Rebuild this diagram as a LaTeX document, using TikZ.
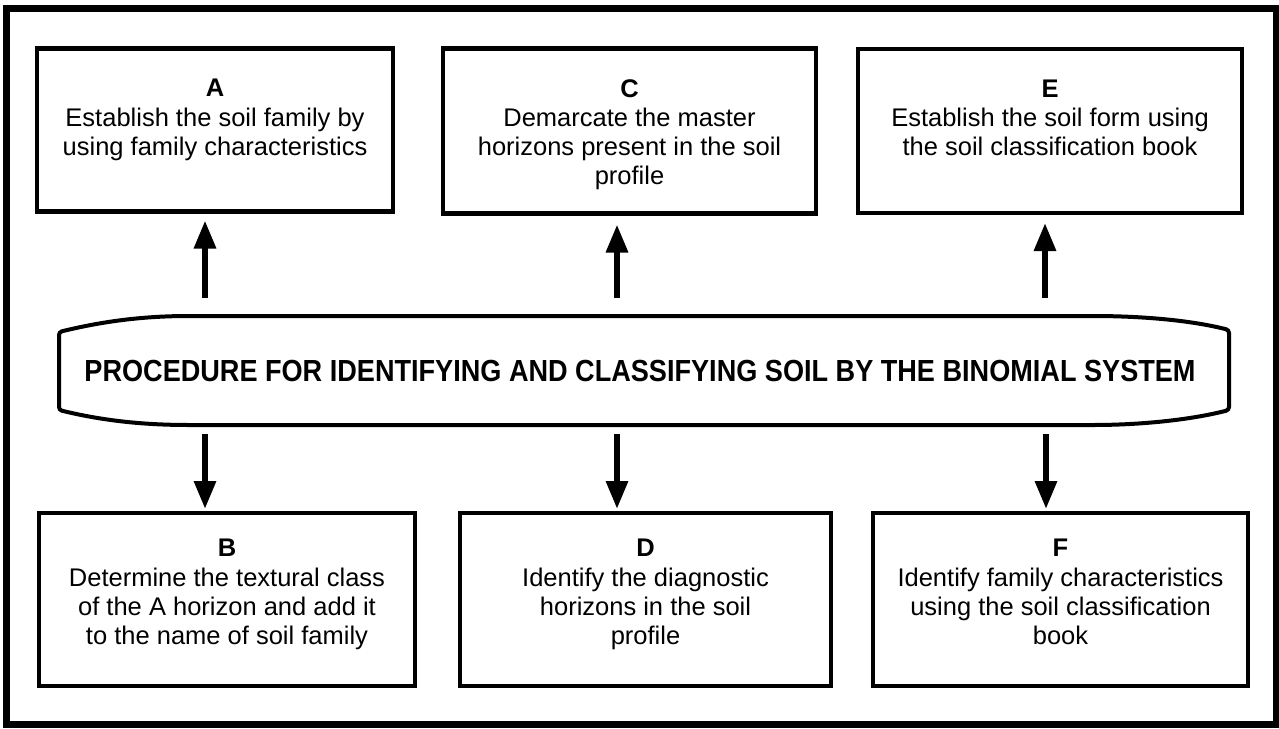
\documentclass[tikz,border=0pt]{standalone}
\usepackage{graphicx}
\usepackage{fontspec}
\setmainfont{Liberation Sans}
\usetikzlibrary{arrows.meta}

\tikzset{
  stepbox/.style={draw, line width=4.5pt, inner sep=0pt, outer sep=0pt},
  boxtext/.style={align=center, inner sep=0pt, anchor=north,
    font=\fontsize{25.5}{29.3}\selectfont},
  arr/.style={line width=6pt, -{Triangle[length=28pt,width=21pt]}},
  frame/.style={draw, line width=6.5pt},
  scroll/.style={draw, line width=4pt, rounded corners=3pt}
}

\begin{document}
\begin{tikzpicture}[x=1pt, y=-1pt]
  \useasboundingbox (0,0) rectangle (1279,728);

  % outer frame
  \draw[frame] (6.5,8.5) rectangle (1276.5,724.5);

  % upper row of steps
  \node[stepbox, minimum width=356pt, minimum height=163pt] (A) at (215,130) {};
  \node[stepbox, minimum width=373pt, minimum height=165pt] (C) at (629.5,131) {};
  \node[stepbox, minimum width=384pt, minimum height=164pt] (E) at (1050,131) {};

  % lower row of steps
  \node[stepbox, minimum width=376pt, minimum height=173pt] (B) at (227,599.5) {};
  \node[stepbox, minimum width=371pt, minimum height=173pt] (D) at (645.5,599.5) {};
  \node[stepbox, minimum width=375pt, minimum height=173pt] (F) at (1060.5,599.5) {};

  % step texts
  \node[boxtext] (At) at ([yshift=-30.5pt]A.north)
    {\textbf{A}\\Establish the soil family by\\using family characteristics};
  \node[boxtext] (Ct) at ([yshift=-30.5pt]C.north)
    {\textbf{C}\\Demarcate the master\\horizons present in the soil\\profile};
  \node[boxtext] (Et) at ([yshift=-30.5pt]E.north)
    {\textbf{E}\\Establish the soil form using\\the soil classification book};
  \node[boxtext] (Bt) at ([yshift=-26pt]B.north)
    {\textbf{B}\\Determine the textural class\\of the A horizon and add it\\to the name of soil family};
  \node[boxtext] (Dt) at ([yshift=-26pt]D.north)
    {\textbf{D}\\Identify the diagnostic\\horizons in the soil\\profile};
  \node[boxtext] (Ft) at ([yshift=-26pt]F.north)
    {\textbf{F}\\Identify family characteristics\\using the soil classification\\book};

  % central scroll
  \draw[scroll] (59,410) -- (59,332)
    .. controls (100,322) and (140,316) .. (192,316)
    -- (1090,316)
    .. controls (1140,316) and (1190,320) .. (1229,330)
    -- (1229,410)
    .. controls (1190,420) and (1140,425) .. (1090,425)
    -- (192,425)
    .. controls (140,425) and (100,420) .. cycle;
  \node[inner sep=0pt] (title) at (640,371)
    {\resizebox{1111pt}{\height}{\fontsize{30.5}{30.5}\selectfont\bfseries
      PROCEDURE FOR IDENTIFYING AND CLASSIFYING SOIL BY THE BINOMIAL SYSTEM}};

  % arrow start points on the scroll
  \coordinate (uA) at (205,298);
  \coordinate (uC) at (617,298);
  \coordinate (uE) at (1045,298);
  \coordinate (dB) at (205,434);
  \coordinate (dD) at (617,434);
  \coordinate (dF) at (1046,434);

  % connectors
  \draw[arr, shorten >=9pt] (uA) -- (uA |- A.south);
  \draw[arr, shorten >=11pt] (uC) -- (uC |- C.south);
  \draw[arr, shorten >=10pt] (uE) -- (uE |- E.south);
  \draw[arr, shorten >=4pt] (dB) -- (dB |- B.north);
  \draw[arr, shorten >=4pt] (dD) -- (dD |- D.north);
  \draw[arr, shorten >=4pt] (dF) -- (dF |- F.north);
\end{tikzpicture}
\end{document}
